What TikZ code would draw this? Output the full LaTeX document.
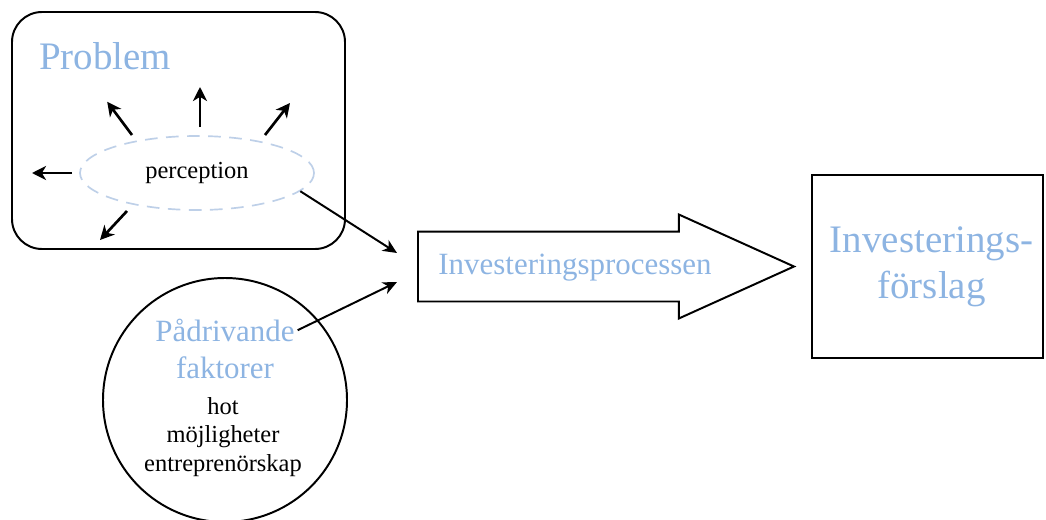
\documentclass[tikz,border=0pt]{standalone}
\usepackage{fontspec}
\setmainfont{Liberation Serif}
\usepackage{tikz}
\usetikzlibrary{positioning, shapes.geometric, shapes.arrows, arrows.meta}

\definecolor{titleblue}{RGB}{141,180,226}
\definecolor{dashblue}{RGB}{190,208,232}

\newcommand{\hugetxt}{\fontsize{27.7}{32.6}\selectfont}
\newcommand{\midtxt}{\fontsize{22}{27}\selectfont}
\newcommand{\smalltxt}{\fontsize{17.4}{20}\selectfont}

\tikzset{
    frame/.style = {draw, line width=1.4pt},
    ray/.style = {-{Stealth[length=10pt, width=10pt, inset=3pt]}, line width=1.9pt},
    feed/.style = {-{Stealth[length=10pt, width=9pt, inset=3pt]}, line width=1.4pt},
    bluetxt/.style = {text=titleblue, inner sep=2pt}
}

\begin{document}
\begin{tikzpicture}
                \useasboundingbox (0, 0) rectangle (26.15, 12.975);

                \node (prob) [frame, rounded corners=0.75cm, minimum width=8.325cm, minimum height=5.925cm] at (4.4625, 9.7125) {};
                \node (probtitle) [bluetxt, font=\hugetxt] at (2.625, 11.58) {Problem};
                \node (perc) [ellipse, draw=dashblue, line width=1.2pt, dash pattern=on 9pt off 6pt, minimum width=5.85cm, minimum height=1.85cm, font=\smalltxt] at (4.925, 8.65) {perception};

                \foreach \sx/\sy/\ex/\ey [count=\i] in {1.8/8.65/0.8/8.65, 3.3/9.6/2.68/10.43, 5.0/9.8/5.0/10.8, 6.625/9.6/7.25/10.4, 3.175/7.7/2.5/6.975}
                {
                    \coordinate (rs\i) at (\sx, \sy);
                    \coordinate (re\i) at (\ex, \ey);
                    \draw [ray] (rs\i) -- (re\i);
                }

                \node (fac) [circle, frame, minimum size=6.1cm] at (5.625, 2.975) {};
                \node (drv) [bluetxt, font=\midtxt] at (5.625, 4.72) {Pådrivande};
                \node (fak) [bluetxt, font=\midtxt] at (5.625, 3.77) {faktorer};
                \node (drivers) [align=center, font=\smalltxt] at (5.575, 2.05) {hot\\möjligheter\\entreprenörskap};

                \node (proc) [single arrow, frame, anchor=tail, minimum height=9.4cm, inner xsep=0pt, inner ysep=0.85cm, single arrow head extend=0.425cm, single arrow tip angle=48.6] at (10.425, 6.3125) {};
                \node (proctxt) [bluetxt, font=\midtxt] at (14.375, 6.275) {Investeringsprocessen};

                \coordinate (in1) at (9.925, 6.65);
                \coordinate (in2) at (9.925, 5.925);
                \draw [feed] (perc.-10) -- (in1);
                \draw [feed] (drv.east) -- (in2);

                \node (prop) [frame, minimum width=5.775cm, minimum height=4.575cm] at (23.19, 6.3125) {};
                \node (proptxt) [bluetxt, align=center, font=\hugetxt] at (23.29, 6.3) {Investerings-\\förslag};
            \end{tikzpicture}
\end{document}
